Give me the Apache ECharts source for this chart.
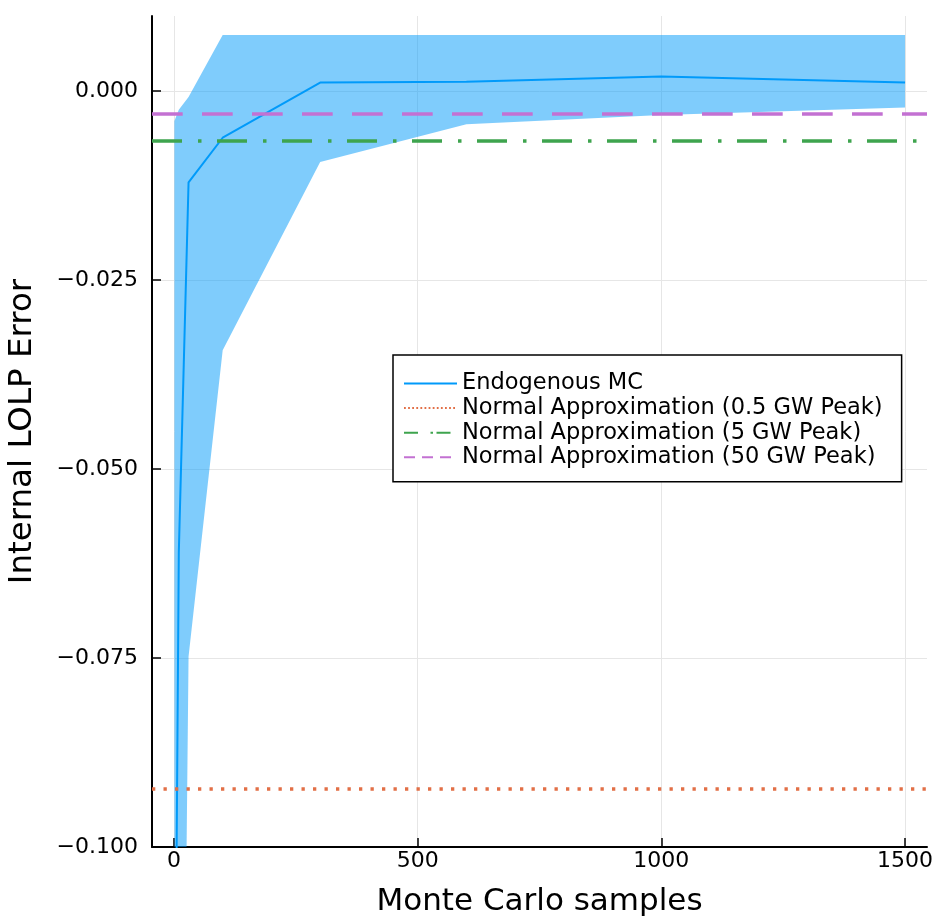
<!DOCTYPE html>
<html>
<head>
<meta charset="utf-8">
<script src="https://cdn.jsdelivr.net/npm/echarts@6/dist/echarts.min.js"></script>
<style>
html,body{margin:0;padding:0;background:#fff;}
#chart{width:934px;height:918px;}
</style>
</head>
<body>
<div id="chart"></div>
<script>
// Data
var samples = [1, 10, 30, 100, 300, 600, 1000, 1500];
var meanError = [-0.14, -0.061, -0.0121, -0.0062, 0.0011, 0.0012, 0.0019, 0.0011];
var upperError = [-0.004, -0.0025, -0.0008, 0.0074, 0.0074, 0.0074, 0.0074, 0.0074];
var lowerError = [-0.30, -0.20, -0.0748, -0.0343, -0.0094, -0.0044, -0.0032, -0.0022];
var normal05GW = -0.0923;
var normal5GW = -0.00657;
var normal50GW = -0.0030;
var xTicks = [0, 500, 1000, 1500];
var yTicks = [-0.1, -0.075, -0.05, -0.025, 0];
var names = ['Endogenous MC', 'Normal Approximation (0.5 GW Peak)', 'Normal Approximation (5 GW Peak)', 'Normal Approximation (50 GW Peak)'];

var FONT = 'DejaVu Sans';
var bandData = samples.map(function (x, i) { return [x, lowerError[i], upperError[i]]; });
var meanData = samples.map(function (x, i) { return [x, meanError[i]]; });

function hline(name, value, color, dash, width) {
  return {
    name: name, type: 'line', data: [], symbol: 'none',
    lineStyle: { color: color, width: width, type: dash },
    itemStyle: { color: color },
    markLine: {
      silent: true, symbol: 'none', animation: false, precision: 6,
      label: { show: false },
      lineStyle: { color: color, width: width, type: dash, opacity: 1 },
      emphasis: { disabled: true },
      data: [{ yAxis: value }]
    }
  };
}

function renderBand(params, api) {
  if (params.dataIndex !== 0) return null;
  var pts = [];
  for (var i = 0; i < samples.length; i++) pts.push(api.coord([samples[i], upperError[i]]));
  for (var j = samples.length - 1; j >= 0; j--) pts.push(api.coord([samples[j], lowerError[j]]));
  var cs = params.coordSys;
  return {
    type: 'polygon',
    shape: { points: pts },
    style: { fill: 'rgba(0,154,250,0.5)', stroke: null },
    clipPath: { type: 'rect', shape: { x: cs.x, y: cs.y, width: cs.width, height: cs.height } },
    silent: true
  };
}

var chart = echarts.init(document.getElementById('chart'), null, { renderer: 'canvas' });
chart.setOption({
  animation: false,
  backgroundColor: '#ffffff',
  textStyle: { fontFamily: FONT },
  grid: { left: 152, right: 7, top: 16, bottom: 71, containLabel: false, outerBoundsMode: 'none' },
  xAxis: {
    type: 'value', min: -45, max: 1545,
    name: 'Monte Carlo samples', nameLocation: 'middle', nameGap: 39,
    nameTextStyle: { fontFamily: FONT, fontSize: 31, color: '#000' },
    axisLine: { onZero: false, lineStyle: { color: '#000', width: 2 } },
    axisTick: { inside: true, length: 9, lineStyle: { color: '#000', width: 1.5 }, customValues: xTicks },
    axisLabel: {
      customValues: xTicks, margin: 3, fontFamily: FONT, fontSize: 22, color: '#000',
      formatter: function (v) { return String(Math.round(v)); }
    },
    splitLine: { show: true, lineStyle: { color: '#e6e6e6', width: 1 } }
  },
  yAxis: {
    type: 'value', min: -0.1, max: 0.0099,
    name: 'Internal LOLP Error', nameLocation: 'middle', nameGap: 113, nameRotate: 90,
    nameTextStyle: { fontFamily: FONT, fontSize: 32.5, color: '#000' },
    axisLine: { onZero: false, lineStyle: { color: '#000', width: 2 } },
    axisTick: { inside: true, length: 9, lineStyle: { color: '#000', width: 1.5 }, customValues: yTicks },
    axisLabel: {
      customValues: yTicks, margin: 14, fontFamily: FONT, fontSize: 22, color: '#000',
      formatter: function (v) { return (v < -1e-9 ? '\u2212' : '') + Math.abs(v).toFixed(3); }
    },
    splitLine: { show: true, lineStyle: { color: '#e6e6e6', width: 1 } }
  },
  legend: {
    orient: 'vertical', left: 393, top: 355,
    backgroundColor: '#fff', borderColor: '#000', borderWidth: 1.5, borderRadius: 0,
    padding: [17, 19, 13, 10],
    itemWidth: 53, itemHeight: 14, itemGap: 1.6,
    itemStyle: { opacity: 0 },
    textStyle: { fontFamily: FONT, fontSize: 22.5, color: '#000', padding: [0, 0, 0, 0] },
    data: [
      { name: names[0], itemStyle: { opacity: 0 }, lineStyle: { width: 2, type: 'solid' } },
      { name: names[1], itemStyle: { opacity: 0 }, lineStyle: { width: 2, type: [1.8, 2.3] } },
      { name: names[2], itemStyle: { opacity: 0 }, lineStyle: { width: 2, type: [14, 12.5, 2.5, 3.5] } },
      { name: names[3], itemStyle: { opacity: 0 }, lineStyle: { width: 2, type: [11, 7] } }
    ]
  },
  series: [
    {
      name: 'band', type: 'custom', data: bandData, renderItem: renderBand,
      encode: { x: 0, y: [1, 2] }, silent: true, clip: true, z: 1
    },
    {
      name: names[0], type: 'line', data: meanData, symbol: 'none', clip: true, z: 3,
      lineStyle: { color: '#009AFA', width: 2 }, itemStyle: { color: '#009AFA' }
    },
    hline(names[1], normal05GW, '#E26F46', [3.3, 8.2], 3.5),
    hline(names[2], normal5GW, '#3EA44E', [30, 16, 3.5, 15.5], 3.5),
    hline(names[3], normal50GW, '#C371D2', [30.7, 19.3], 3.5)
  ]
});
</script>
</body>
</html>
